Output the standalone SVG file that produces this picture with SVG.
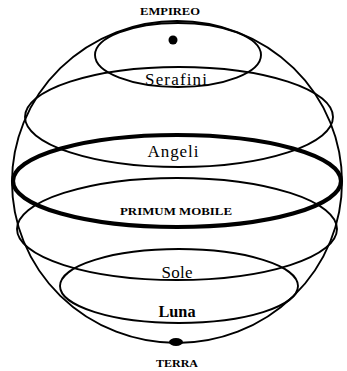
<svg xmlns="http://www.w3.org/2000/svg" width="347" height="371" viewBox="0 0 347 371">
<style>
.ln{fill:none;stroke:#000;stroke-width:1.9}
.thick{fill:none;stroke:#000;stroke-width:4.2}
.lbl{font-family:"Liberation Serif","Times New Roman",serif;fill:#000;text-anchor:middle}
.big{font-size:17px}
.sm{font-size:10.5px;font-weight:bold}
</style>
<rect width="347" height="371" fill="#fff"/>
<g id="sphere">
<ellipse class="ln" cx="177" cy="182" rx="165" ry="161"/>
</g>
<g id="empireo">
<ellipse class="ln" cx="178" cy="55" rx="83" ry="32"/>
<circle cx="173" cy="40" r="4.5" fill="#000"/>
<text class="lbl sm" x="170" y="15" textLength="60" lengthAdjust="spacingAndGlyphs">EMPIREO</text>
</g>
<g id="serafini">
<ellipse class="ln" cx="179" cy="117" rx="154" ry="50"/>
<text class="lbl big" x="176" y="85" textLength="62" lengthAdjust="spacing">Serafini</text>
</g>
<g id="angeli">
<text class="lbl big" x="173" y="157" textLength="51" lengthAdjust="spacing">Angeli</text>
</g>
<g id="primum-mobile">
<ellipse class="thick" cx="177" cy="181" rx="164" ry="46"/>
<text class="lbl sm" x="176" y="215" textLength="112" lengthAdjust="spacingAndGlyphs">PRIMUM MOBILE</text>
</g>
<g id="sole">
<ellipse class="ln" cx="177" cy="229" rx="160" ry="51"/>
<text class="lbl big" x="177" y="278" textLength="31" lengthAdjust="spacing">Sole</text>
</g>
<g id="luna">
<ellipse class="ln" cx="179" cy="286" rx="119" ry="37"/>
<text class="lbl big" x="177" y="317" font-weight="bold" textLength="37" lengthAdjust="spacingAndGlyphs">Luna</text>
</g>
<g id="terra">
<ellipse cx="176" cy="342" rx="7" ry="4" fill="#000"/>
<text class="lbl sm" x="177" y="367" textLength="42" lengthAdjust="spacingAndGlyphs">TERRA</text>
</g>
</svg>
